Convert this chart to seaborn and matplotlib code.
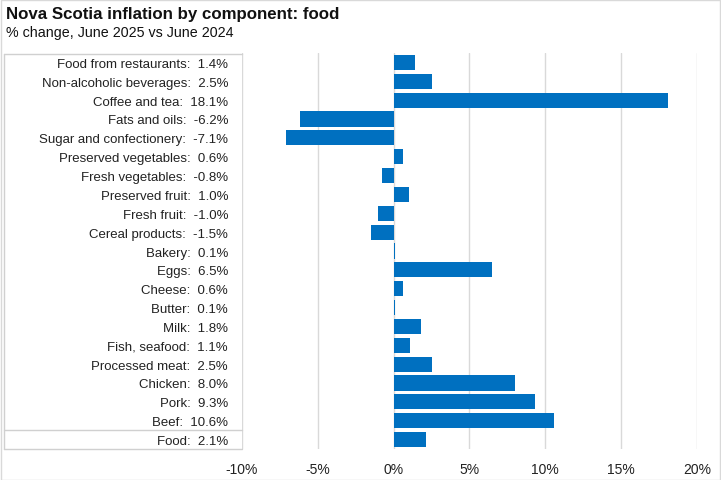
import pandas as pd
import seaborn as sns
import matplotlib.pyplot as plt
from matplotlib.lines import Line2D
from matplotlib.patches import Rectangle

categories = ["Food from restaurants", "Non-alcoholic beverages", "Coffee and tea",
              "Fats and oils", "Sugar and confectionery", "Preserved vegetables",
              "Fresh vegetables", "Preserved fruit", "Fresh fruit", "Cereal products",
              "Bakery", "Eggs", "Cheese", "Butter", "Milk", "Fish, seafood",
              "Processed meat", "Chicken", "Pork", "Beef", "Food"]
values = [1.4, 2.5, 18.1, -6.2, -7.1, 0.6, -0.8, 1.0, -1.0, -1.5,
          0.1, 6.5, 0.6, 0.1, 1.8, 1.1, 2.5, 8.0, 9.3, 10.6, 2.1]
xticks = [-10, -5, 0, 5, 10, 15, 20]

sns.set_style("white")
plt.rcParams['font.family'] = ['Liberation Sans', 'DejaVu Sans']

df = pd.DataFrame({"label": [f"{c}:  {v:.1f}%" for c, v in zip(categories, values)],
                   "value": values})

W, H = 721, 481
fig = plt.figure(figsize=(W / 100, H / 100), dpi=100)
ax = fig.add_axes([242 / W, 1 - 450 / H, (697 - 242) / W, (450 - 54) / H])

sns.barplot(data=df, y="label", x="value", orient="h", color="#0070C0",
            width=0.8, saturation=1, linewidth=0, edgecolor="none", ax=ax, zorder=3)

ax.set_xlim(-10, 20)
ax.set_ylim(len(categories) - 0.5, -0.5)
ax.set_xticks(xticks)
ax.set_xticklabels([f"{t}%" for t in xticks])
ax.grid(axis="x", color="#D9D9D9", linewidth=1, zorder=0)
ax.set_axisbelow(True)
for s in ax.spines.values():
    s.set_visible(False)
ax.tick_params(axis="y", length=0, pad=10, labelsize=9.5, labelcolor="#222222")
ax.tick_params(axis="x", length=0, pad=9, labelsize=10, labelcolor="#222222")
ax.set_xlabel("")
ax.set_ylabel("")

# label table lines
lc = "#D0D0D0"
def fline(x0, y0, x1, y1):
    fig.add_artist(Line2D([x0 / W, x1 / W], [1 - y0 / H, 1 - y1 / H], color=lc, lw=1))
fline(4, 55, 242, 55)
fline(4, 55, 4, 450)
fline(4, 450, 242, 450)
fline(4, 431, 242, 431)

# chart border
fig.add_artist(Rectangle((0.5 / W, 0.5 / H), 1 - 1.5 / W, 1 - 1.5 / H, transform=fig.transFigure,
                         fill=False, edgecolor="#D9D9D9", lw=1))

fig.text(6 / W, 1 - 14 / H, "Nova Scotia inflation by component: food", fontsize=12.2,
         fontweight="bold", va="center", ha="left", color="#111111")
fig.text(6 / W, 1 - 33 / H, "% change, June 2025 vs June 2024", fontsize=10.3,
         va="center", ha="left", color="#111111")

fig.savefig("out.png", dpi=100)
